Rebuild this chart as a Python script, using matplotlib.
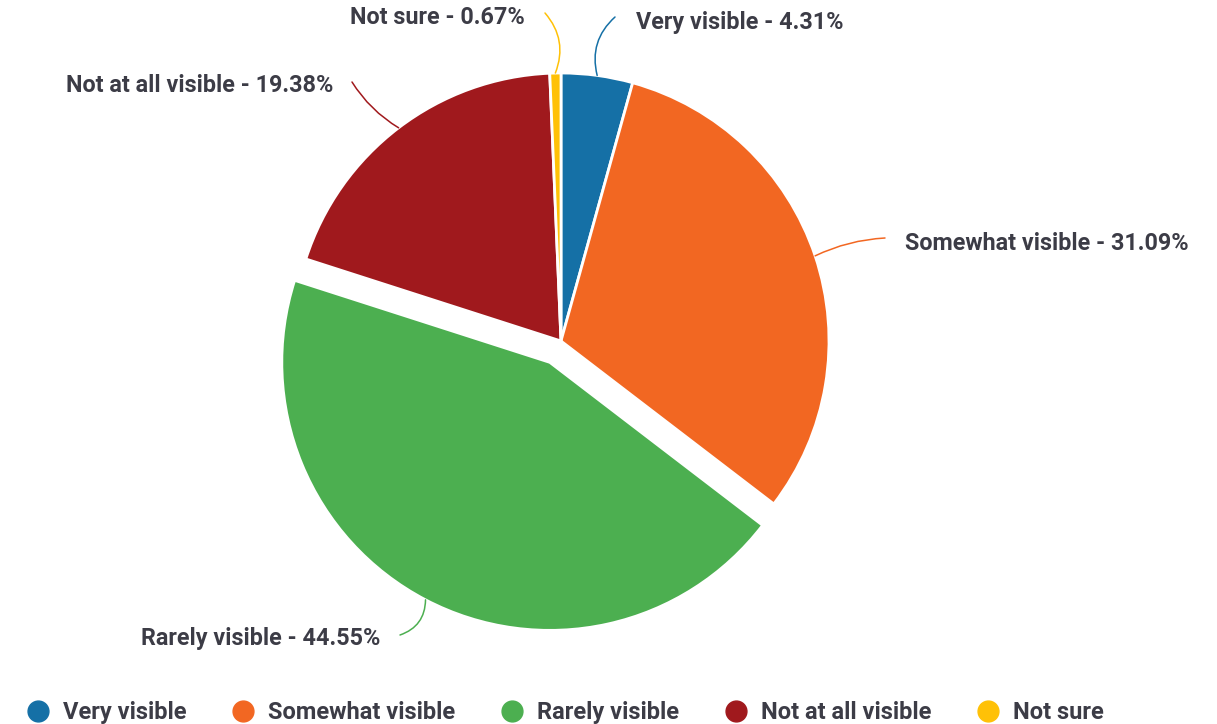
import numpy as np
import matplotlib
matplotlib.use("Agg")
import matplotlib.pyplot as plt
from matplotlib.lines import Line2D

categories = ["Very visible", "Somewhat visible", "Rarely visible", "Not at all visible", "Not sure"]
values = [4.31, 31.09, 44.55, 19.38, 0.67]
colors = ["#1570a6", "#f26722", "#4caf50", "#a0191d", "#ffc107"]
explode_frac = [0, 0, 0.09, 0, 0]

plt.rcParams['font.family'] = ['Roboto', 'DejaVu Sans']
TEXT = "#3c3c46"

W, H = 1217, 724
fig = plt.figure(figsize=(W / 100, H / 100), dpi=100)
ax = fig.add_axes([0, 0, 1, 1])

cx, cy, R = 561, H - 341, 268
wedges, _ = ax.pie(values, colors=colors, startangle=90, counterclock=False,
                   explode=[e * R for e in explode_frac], radius=R, center=(cx, cy),
                   frame=True, wedgeprops=dict(edgecolor='white', linewidth=2))
ax.set_xlim(0, W)
ax.set_ylim(0, H)
ax.set_aspect('equal')
ax.axis('off')

# label text positions (pixel coords, y from top), alignments, connector ends
label_pos = [(636, 22, 'left'), (905, 243, 'left'), (380, 638, 'right'),
             (333, 85, 'right'), (525, 18, 'right')]
conn_end = [(615, 17), (885, 238), (400, 635), (352, 82), (545, 13)]
rads = [0.3, 0.1, 0.35, 0.12, -0.3]

for i, w in enumerate(wedges):
    mid = np.deg2rad((w.theta1 + w.theta2) / 2)
    wcx, wcy = w.center
    r = w.r
    ex, ey = wcx + r * np.cos(mid), wcy + r * np.sin(mid)
    tx, ty, ha = label_pos[i]
    endx, endy = conn_end[i]
    ax.annotate("", xy=(ex, ey), xytext=(endx, H - endy),
                arrowprops=dict(arrowstyle='-', color=colors[i], lw=1.1,
                                shrinkA=0, shrinkB=0,
                                connectionstyle=f"arc3,rad={rads[i]}"))
    ax.text(tx, H - ty, f"{categories[i]} - {values[i]:.2f}%", ha=ha, va='center',
            fontsize=16.8, fontweight='bold', color=TEXT)

handles = [Line2D([0], [0], marker='o', linestyle='', markersize=15,
                  markerfacecolor=c, markeredgecolor=c) for c in colors]
fig.legend(handles, categories, loc='lower center', ncol=5, frameon=False,
           bbox_to_anchor=(0.464, -0.03), handlelength=1.0, handletextpad=0.56,
           columnspacing=1.9,
           prop=dict(family=['Roboto', 'DejaVu Sans'], weight='bold', size=17),
           labelcolor=TEXT)

fig.savefig("out.png", dpi=100, facecolor='white')
